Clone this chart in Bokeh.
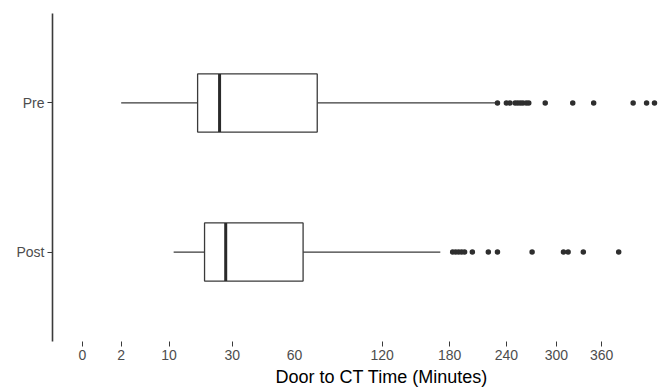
import math
from bokeh.plotting import figure
from bokeh.models import Range1d, FixedTicker, CustomJSTickFormatter, Title, ColumnDataSource
from bokeh.embed import file_html
from bokeh.resources import INLINE

# ---- data (minutes) ----
groups = ["Pre", "Post"]
group_pos = [2, 1]
whisker_low = [2.0, 11.1]
q1 = [17.7, 19.9]
median = [25.1, 27.4]
q3 = [73.6, 65.0]
whisker_high = [228.0, 171.0]
pre_outliers = [230, 240, 244, 250, 253, 256, 259, 263, 266, 286, 321, 349, 405, 425, 437]
post_outliers = [183, 186, 189, 192, 195, 203, 220, 230, 270, 309, 315, 335, 384]
tick_vals = [0, 2, 10, 30, 60, 120, 180, 240, 300, 360]
tick_marks = [0, 2, 10, 30, 120, 180, 240, 300, 360]
x_title = "Door to CT Time (Minutes)"

sq = lambda vals: [math.sqrt(v) for v in vals]
box_h = 0.39
dark = "#3a3a3a"

p = figure(width=667, height=390, output_backend="svg", toolbar_location=None,
           x_range=Range1d(-1.096, 21.38), y_range=Range1d(0.4, 2.6),
           min_border_left=52, min_border_right=0, min_border_top=13, min_border_bottom=49)
p.outline_line_color = None
p.grid.visible = False
p.background_fill_color = "white"

src = ColumnDataSource(dict(
    y=group_pos, lo=sq(whisker_low), q1=sq(q1), med=sq(median), q3=sq(q3), hi=sq(whisker_high),
    ylo=[g - box_h / 2 for g in group_pos], yhi=[g + box_h / 2 for g in group_pos]))

p.segment(x0="lo", x1="q1", y0="y", y1="y", source=src, line_color=dark, line_width=1.3)
p.segment(x0="q3", x1="hi", y0="y", y1="y", source=src, line_color=dark, line_width=1.3)
p.hbar(y="y", left="q1", right="q3", height=box_h, source=src,
       fill_color="white", line_color=dark, line_width=1.3)
p.segment(x0="med", x1="med", y0="ylo", y1="yhi", source=src, line_color="#2a2a2a", line_width=3)

p.scatter(sq(pre_outliers), [group_pos[0]] * len(pre_outliers), size=5.5,
          fill_color="#2e2e2e", line_color=None)
p.scatter(sq(post_outliers), [group_pos[1]] * len(post_outliers), size=5.5,
          fill_color="#2e2e2e", line_color=None)

# x axis: labels at all ticks, tick marks (minor) except at 60
xa = p.xaxis[0]
xa.ticker = FixedTicker(ticks=sq(tick_vals), minor_ticks=sq(tick_marks))
xa.formatter = CustomJSTickFormatter(code="return String(Math.round(tick*tick));")
xa.axis_line_color = None
xa.major_tick_line_color = None
xa.major_tick_out = 5
xa.major_tick_in = 0
xa.minor_tick_line_color = dark
xa.minor_tick_out = 5
xa.minor_tick_in = 0
xa.minor_tick_line_width = 1
xa.major_label_standoff = 3
xa.major_label_text_font = "Liberation Sans"
xa.major_label_text_font_size = "14px"
xa.major_label_text_color = "#4d4d4d"

ya = p.yaxis[0]
ya.ticker = FixedTicker(ticks=group_pos)
ya.major_label_overrides = {g: n for g, n in zip(group_pos, groups)}
ya.minor_tick_line_color = None
ya.axis_line_color = dark
ya.axis_line_width = 1.6
ya.major_tick_line_color = dark
ya.major_tick_out = 5
ya.major_tick_in = 0
ya.major_label_standoff = 3
ya.major_label_text_font = "Liberation Sans"
ya.major_label_text_font_size = "14px"
ya.major_label_text_color = "#4d4d4d"

t = Title(text=x_title, align="left", offset=223, standoff=4,
          text_font="Liberation Sans", text_font_size="18px", text_font_style="normal",
          text_color="black")
p.add_layout(t, "below")

open("out.html", "w").write(file_html(p, INLINE))
